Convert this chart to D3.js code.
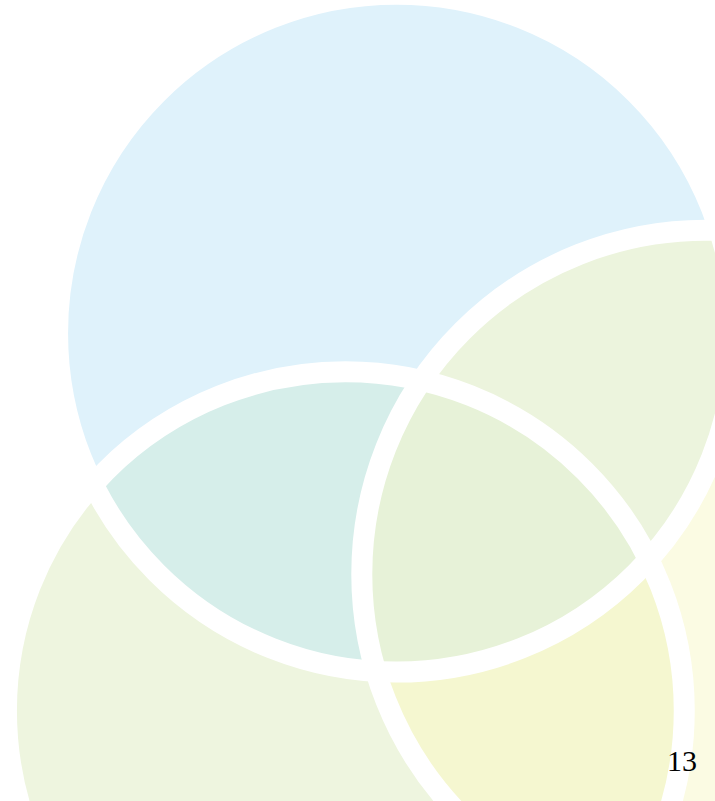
<!DOCTYPE html>
<html>
<head>
<meta charset="utf-8">
<script src="https://cdn.jsdelivr.net/npm/d3@7"></script>
<style>
  body { margin: 0; background: #ffffff; }
  svg { display: block; }
</style>
</head>
<body>
<div id="vis"></div>
<script>
const SVG_WIDTH = 715;
const SVG_HEIGHT = 801;

// sets of the diagram, in a 0-100 unit grid (7.15 px per unit)
const setNames = ["A", "B", "C"];
const setX = [55.45, 48.3, 98.7];
const setY = [46.6, 99.4, 80.3];
const setR = [47.4, 47.4, 48.1];

// overlaps, drawn in this order
const regionNames = ["BC", "AB", "AC", "ABC"];

const pageLabel = "13";

const colors = {
    A: "#dff2fb",
    B: "#eef5df",
    C: "#fbfbe3",
    BC: "#f5f7d0",
    AB: "#d6eeea",
    AC: "#ecf4dd",
    ABC: "#e7f2d8",
};

const SVG = d3.select("#vis").append("svg")
    .attr("width", SVG_WIDTH)
    .attr("height", SVG_HEIGHT);

SVG.append("rect")
   .attr("width", SVG_WIDTH)
   .attr("height", SVG_HEIGHT)
   .attr("fill", "#ffffff");

const XScale = d3.scaleLinear().domain([0, 100]).range([0, SVG_WIDTH]);
const YScale = d3.scaleLinear().domain([0, 100]).range([0, 715]);
const RScale = d3.scaleLinear().domain([0, 100]).range([0, 715]);

const sets = setNames.map((name, i) => ({
    name: name,
    cx: XScale(setX[i]),
    cy: YScale(setY[i]),
    r: RScale(setR[i]),
}));
const byName = {};
sets.forEach((s) => byName[s.name] = s);

// one clip path per set
const defs = SVG.append("defs");
defs.selectAll("clipPath")
    .data(sets)
    .join("clipPath")
    .attr("id", (d) => "clip-" + d.name)
    .append("circle")
    .attr("cx", (d) => d.cx)
    .attr("cy", (d) => d.cy)
    .attr("r", (d) => d.r);

// plain fills
SVG.append("g")
   .selectAll("circle")
   .data(sets)
   .join("circle")
   .attr("cx", (d) => d.cx)
   .attr("cy", (d) => d.cy)
   .attr("r", (d) => d.r)
   .attr("fill", (d) => colors[d.name]);

// overlaps: last letter is the circle drawn, the others clip it
regionNames.forEach((reg) => {
    const letters = reg.split("");
    const shape = byName[letters.pop()];
    let parent = SVG.append("g").attr("class", "region-" + reg);
    letters.forEach((l) => {
        parent = parent.append("g").attr("clip-path", `url(#clip-${l})`);
    });
    parent.append("circle")
          .attr("cx", shape.cx)
          .attr("cy", shape.cy)
          .attr("r", shape.r)
          .attr("fill", colors[reg]);
});

// white rings
SVG.append("g")
   .selectAll("circle")
   .data(sets)
   .join("circle")
   .attr("cx", (d) => d.cx)
   .attr("cy", (d) => d.cy)
   .attr("r", (d) => d.r)
   .attr("fill", "none")
   .attr("stroke", "#ffffff")
   .attr("stroke-width", 21);

SVG.append("text")
   .text(pageLabel)
   .attr("x", 667)
   .attr("y", 771)
   .attr("font-family", "'Liberation Serif', 'Times New Roman', serif")
   .attr("font-size", 30)
   .attr("fill", "#000000");
</script>
</body>
</html>
